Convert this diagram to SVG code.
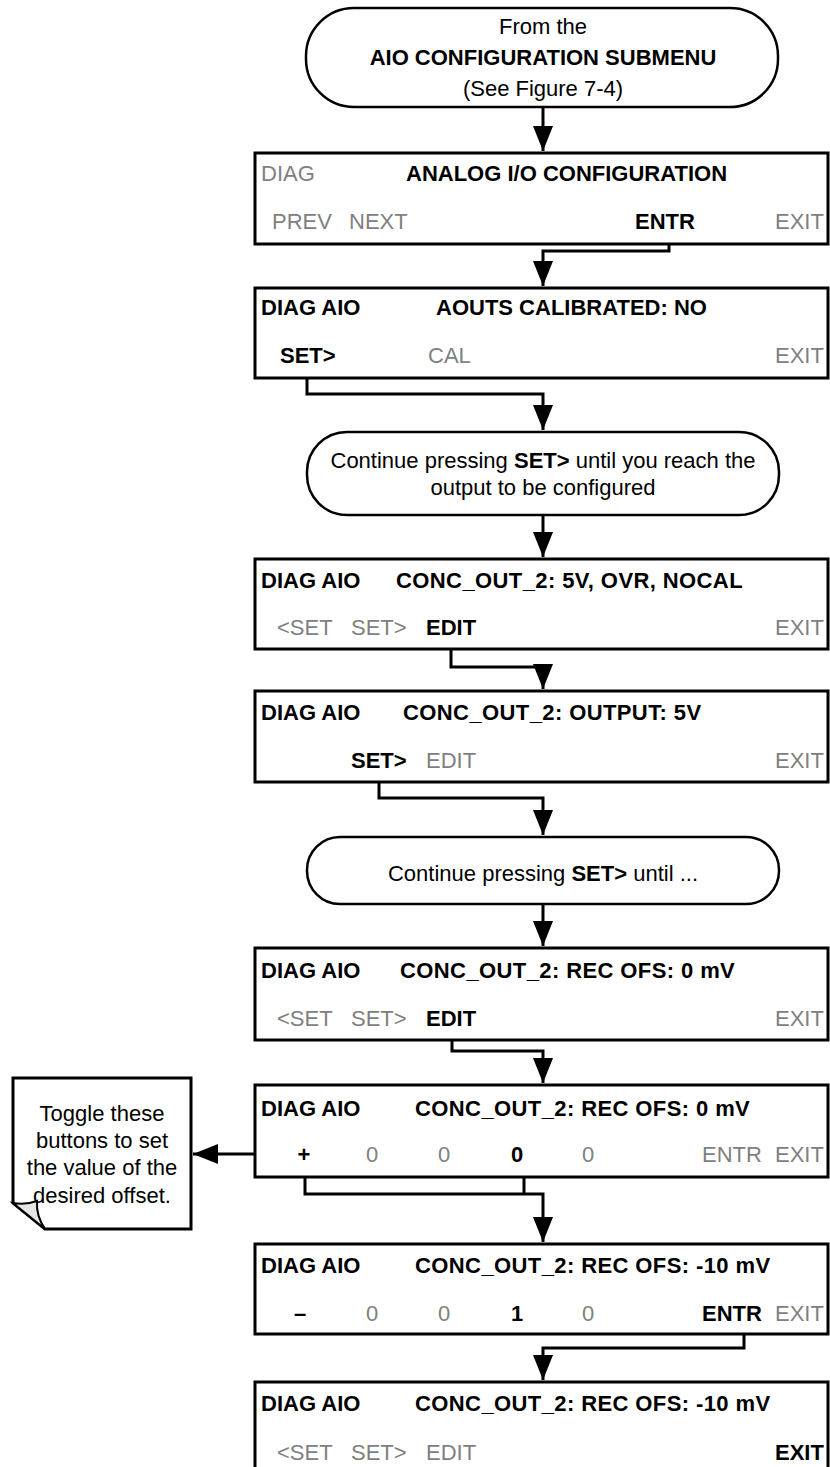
<svg xmlns="http://www.w3.org/2000/svg" width="830" height="1467" viewBox="0 0 830 1467">
<style>
text{font-family:"Liberation Sans",Arial,sans-serif;font-size:22px;fill:#000}
.b{font-weight:bold}
.g{fill:#808080}
.m{text-anchor:middle}
.ls{letter-spacing:0.4px}
.box{fill:#fff;stroke:#000;stroke-width:3}
.pill{fill:#fff;stroke:#000;stroke-width:2.5}
.c{fill:none;stroke:#000;stroke-width:3}
</style>
<defs>
<marker id="ah" markerUnits="userSpaceOnUse" markerWidth="26" markerHeight="22" refX="25" refY="10" orient="auto">
<path d="M0,0 L25,10 L0,20 Z" fill="#000"/>
</marker>
</defs>
<rect width="830" height="1467" fill="#fff"/>
<g id="connectors">
<path class="c" d="M543,107 V151" marker-end="url(#ah)"/>
<path class="c" d="M669,236 V251 H543 V286" marker-end="url(#ah)"/>
<path class="c" d="M307,364 V394 H543 V430" marker-end="url(#ah)"/>
<path class="c" d="M543,515 V557" marker-end="url(#ah)"/>
<path class="c" d="M451,636 V667 H543 V689" marker-end="url(#ah)"/>
<path class="c" d="M379,770 V798 H543 V835" marker-end="url(#ah)"/>
<path class="c" d="M543,904 V946" marker-end="url(#ah)"/>
<path class="c" d="M452,1027 V1051 H543 V1083" marker-end="url(#ah)"/>
<path class="c" d="M305,1163 V1194 H543 V1242" marker-end="url(#ah)"/>
<path class="c" d="M524,1163 V1194"/>
<path class="c" d="M266,1154 H193" marker-end="url(#ah)"/>
<path class="c" d="M744,1322 V1348 H543 V1380" marker-end="url(#ah)"/>
</g>
<g id="start">
<rect class="pill" x="306" y="8" width="472" height="99" rx="48" ry="48"/>
<text class="m" x="543" y="34">From the</text>
<text class="m b" x="543" y="65">AIO CONFIGURATION SUBMENU</text>
<text class="m" x="543" y="96">(See Figure 7-4)</text>
</g>
<g id="box1">
<rect class="box" x="255" y="153" width="573" height="91"/>
<text class="g" x="261" y="181">DIAG</text>
<text class="b" x="406" y="181">ANALOG I/O CONFIGURATION</text>
<text class="g" x="272" y="229">PREV</text>
<text class="g" x="349" y="229">NEXT</text>
<text class="b m" x="665" y="229">ENTR</text>
<text class="g" x="775" y="229">EXIT</text>
</g>
<g id="box2">
<rect class="box" x="255" y="288" width="573" height="90"/>
<text class="b" x="261" y="315">DIAG AIO</text>
<text class="b" x="436" y="315">AOUTS CALIBRATED: NO</text>
<text class="b" x="280" y="363">SET&gt;</text>
<text class="g" x="428" y="363">CAL</text>
<text class="g" x="775" y="363">EXIT</text>
</g>
<g id="pill2">
<rect class="pill" x="307" y="432" width="472" height="83" rx="40" ry="40"/>
<text class="m" x="543" y="468">Continue pressing <tspan class="b">SET&gt;</tspan> until you reach the</text>
<text class="m" x="543" y="495">output to be configured</text>
</g>
<g id="box3">
<rect class="box" x="255" y="559" width="573" height="90"/>
<text class="b" x="261" y="588">DIAG AIO</text>
<text class="b ls" x="396" y="588">CONC_OUT_2: 5V, OVR, NOCAL</text>
<text class="g" x="277" y="635">&lt;SET</text>
<text class="g" x="351" y="635">SET&gt;</text>
<text class="b" x="426" y="635">EDIT</text>
<text class="g" x="775" y="635">EXIT</text>
</g>
<g id="box4">
<rect class="box" x="255" y="691" width="573" height="91"/>
<text class="b" x="261" y="720">DIAG AIO</text>
<text class="b ls" x="403" y="720">CONC_OUT_2: OUTPUT: 5V</text>
<text class="b" x="351" y="768">SET&gt;</text>
<text class="g" x="426" y="768">EDIT</text>
<text class="g" x="775" y="768">EXIT</text>
</g>
<g id="pill3">
<rect class="pill" x="307" y="837" width="472" height="67" rx="33" ry="33"/>
<text class="m" x="543" y="881">Continue pressing <tspan class="b">SET&gt;</tspan> until ...</text>
</g>
<g id="box5">
<rect class="box" x="255" y="948" width="573" height="92"/>
<text class="b" x="261" y="978">DIAG AIO</text>
<text class="b ls" x="400" y="978">CONC_OUT_2: REC OFS: 0 mV</text>
<text class="g" x="277" y="1026">&lt;SET</text>
<text class="g" x="351" y="1026">SET&gt;</text>
<text class="b" x="426" y="1026">EDIT</text>
<text class="g" x="775" y="1026">EXIT</text>
</g>
<g id="box6">
<rect class="box" x="255" y="1085" width="573" height="92"/>
<text class="b" x="261" y="1116">DIAG AIO</text>
<text class="b ls" x="415" y="1116">CONC_OUT_2: REC OFS: 0 mV</text>
<text class="b m" x="304" y="1162">+</text>
<text class="g m" x="372" y="1162">0</text>
<text class="g m" x="444" y="1162">0</text>
<text class="b m" x="517" y="1162">0</text>
<text class="g m" x="588" y="1162">0</text>
<text class="g" x="702" y="1162">ENTR</text>
<text class="g" x="775" y="1162">EXIT</text>
</g>
<g id="note">
<path class="box" d="M13,1078 H191 V1229 H45 L13,1203 Z"/>
<path d="M13,1203 Q26,1205 37,1201 Q36,1216 45,1229 Z" fill="#e6e6e6" stroke="#000" stroke-width="2"/>
<text class="m" x="102" y="1121">Toggle these</text>
<text class="m" x="102" y="1148">buttons to set</text>
<text class="m" x="102" y="1175">the value of the</text>
<text class="m" x="102" y="1203">desired offset.</text>
</g>
<g id="box7">
<rect class="box" x="255" y="1244" width="573" height="90"/>
<text class="b" x="261" y="1273">DIAG AIO</text>
<text class="b ls" x="415" y="1273">CONC_OUT_2: REC OFS: -10 mV</text>
<text class="b m" x="300" y="1321">–</text>
<text class="g m" x="372" y="1321">0</text>
<text class="g m" x="444" y="1321">0</text>
<text class="b m" x="517" y="1321">1</text>
<text class="g m" x="588" y="1321">0</text>
<text class="b" x="702" y="1321">ENTR</text>
<text class="g" x="775" y="1321">EXIT</text>
</g>
<g id="box8">
<rect class="box" x="255" y="1382" width="573" height="100"/>
<text class="b" x="261" y="1411">DIAG AIO</text>
<text class="b ls" x="415" y="1411">CONC_OUT_2: REC OFS: -10 mV</text>
<text class="g" x="277" y="1460">&lt;SET</text>
<text class="g" x="351" y="1460">SET&gt;</text>
<text class="g" x="426" y="1460">EDIT</text>
<text class="b" x="775" y="1460">EXIT</text>
</g>
</svg>
